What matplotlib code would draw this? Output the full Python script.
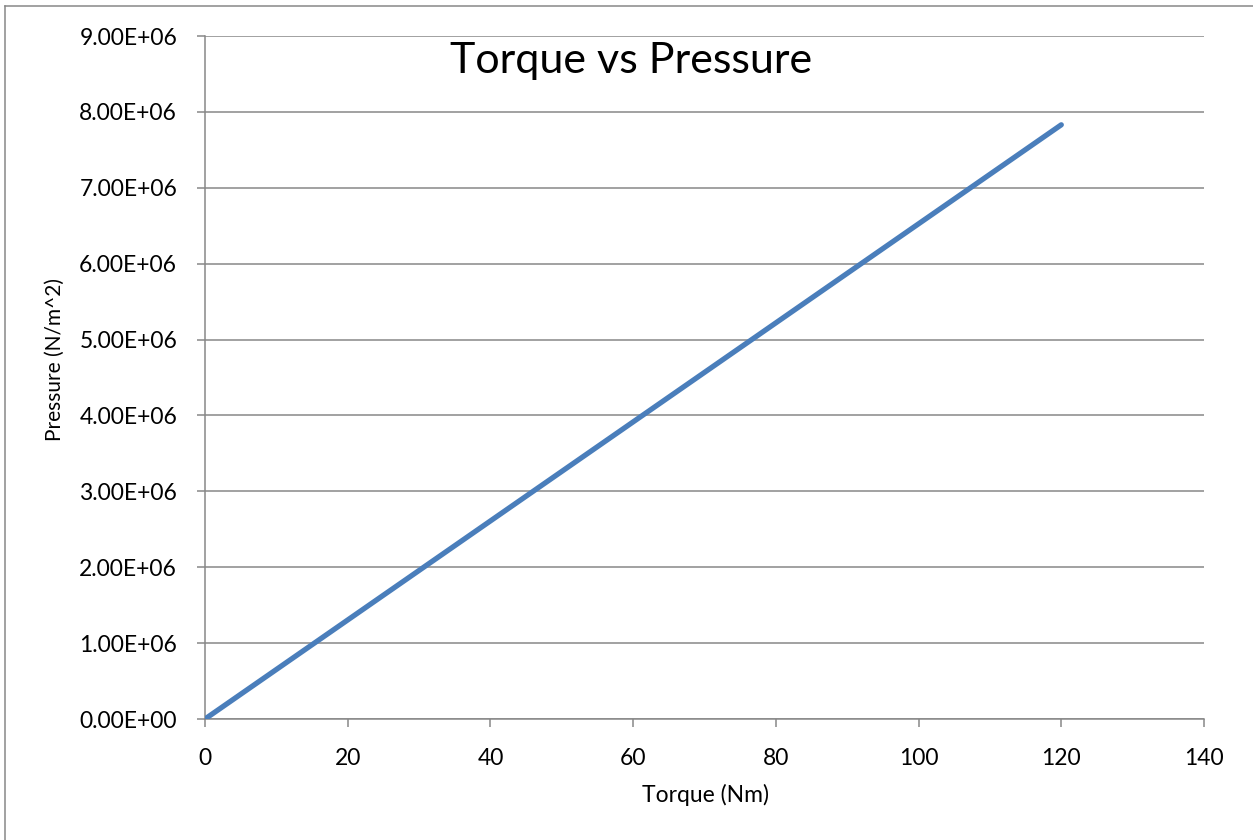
import matplotlib.pyplot as plt
from matplotlib.lines import Line2D

# data
torque = [0, 20, 40, 60, 80, 100, 120]
pressure = [0, 1.305e6, 2.61e6, 3.915e6, 5.22e6, 6.525e6, 7.83e6]
xticks = [0, 20, 40, 60, 80, 100, 120, 140]
yticks = [0, 1e6, 2e6, 3e6, 4e6, 5e6, 6e6, 7e6, 8e6, 9e6]

plt.rcParams['font.family'] = ['Lato', 'DejaVu Sans']
grey = '#878787'

fig = plt.figure(figsize=(12.53, 8.4), dpi=100)
ax = fig.add_axes([205/1253, 121/840, 999/1253, 683/840])

ax.plot(torque, pressure, color='#4A7EBB', lw=3.8, solid_capstyle='round', zorder=3)

ax.set_xlim(0, 140)
ax.set_ylim(0, 9e6)
ax.set_xticks(xticks)
ax.set_yticks(yticks)
ax.set_yticklabels(['%.2E' % v for v in yticks])
ax.grid(axis='y', color=grey, lw=1.1)
ax.set_axisbelow(True)
for s in ['top', 'right']:
    ax.spines[s].set_visible(False)
for s in ['left', 'bottom']:
    ax.spines[s].set_color(grey)
    ax.spines[s].set_linewidth(1.1)
ax.tick_params(colors=grey, labelcolor='black', length=6, width=1.1,
               labelsize=16.5, direction='out')
ax.tick_params(axis='y', pad=14)
ax.tick_params(axis='x', pad=15)

fig.text(631/1253, 1 - 73/840, 'Torque vs Pressure', fontsize=31,
         ha='center', va='baseline')
fig.text(705/1253, 1 - 802/840, 'Torque (Nm)', fontsize=16.5,
         ha='center', va='baseline')
fig.text(55/1253, 1 - 359/840, 'Pressure (N/m^2)', fontsize=15,
         ha='center', va='center', rotation=90)

# outer chart border (only left and top visible in the crop)
fig.add_artist(Line2D([5/1253, 5/1253], [0, 1 - 6/840], color=grey, lw=1.1,
                      transform=fig.transFigure))
fig.add_artist(Line2D([5/1253, 1], [1 - 6/840, 1 - 6/840], color=grey, lw=1.1,
                      transform=fig.transFigure))

fig.savefig('out.png', dpi=100)
